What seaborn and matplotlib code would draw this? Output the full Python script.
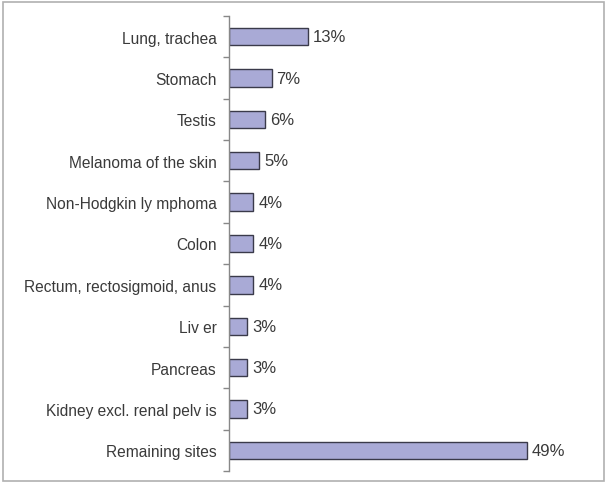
import matplotlib
matplotlib.use("Agg")
import matplotlib.pyplot as plt
import seaborn as sns
import pandas as pd
from matplotlib.patches import Rectangle

sites = ["Lung, trachea", "Stomach", "Testis", "Melanoma of the skin",
         "Non-Hodgkin ly mphoma", "Colon", "Rectum, rectosigmoid, anus",
         "Liv er", "Pancreas", "Kidney excl. renal pelv is", "Remaining sites"]
shares = [13, 7, 6, 5, 4, 4, 4, 3, 3, 3, 49]
value_labels = ["13%", "7%", "6%", "5%", "4%", "4%", "4%", "3%", "3%", "3%", "49%"]

sns.set_theme(style="white")
plt.rcParams['font.family'] = ['Liberation Sans', 'DejaVu Sans']

df = pd.DataFrame({"site": sites, "share": shares})

fig = plt.figure(figsize=(6.07, 4.85), dpi=100)
fig.patches.append(Rectangle((3/607, 3/485), 601/607, 479/485, transform=fig.transFigure,
                             fill=False, edgecolor="#b0b0b0", linewidth=1.2))
ax = fig.add_axes([229/607, 13/485, 371/607, 455/485])

sns.barplot(data=df, y="site", x="share", orient="h", ax=ax,
            color="#a9aad6", saturation=1, width=0.42,
            edgecolor="#3a3a4a", linewidth=1.0)

for i, (v, lab) in enumerate(zip(shares, value_labels)):
    ax.text(v + 0.8, i, lab, va="center", ha="left", fontsize=12, color="#3a3a3a")

ax.set_xlim(0, 61)
ax.set_ylim(10.5, -0.5)
ax.set_xlabel("")
ax.set_ylabel("")
ax.set_xticks([])
for s in ["top", "right", "bottom"]:
    ax.spines[s].set_visible(False)
ax.spines["left"].set_color("#888888")
ax.spines["left"].set_linewidth(1.0)
ax.tick_params(axis="y", which="major", left=False, length=0, pad=9,
               labelsize=11.2, labelcolor="#3a3a3a")
ax.set_yticks([i + 0.5 for i in range(-1, 11)], minor=True)
ax.tick_params(axis="y", which="minor", left=True, length=4, width=1,
               color="#888888", direction="out")

fig.savefig("out.png", dpi=100)
